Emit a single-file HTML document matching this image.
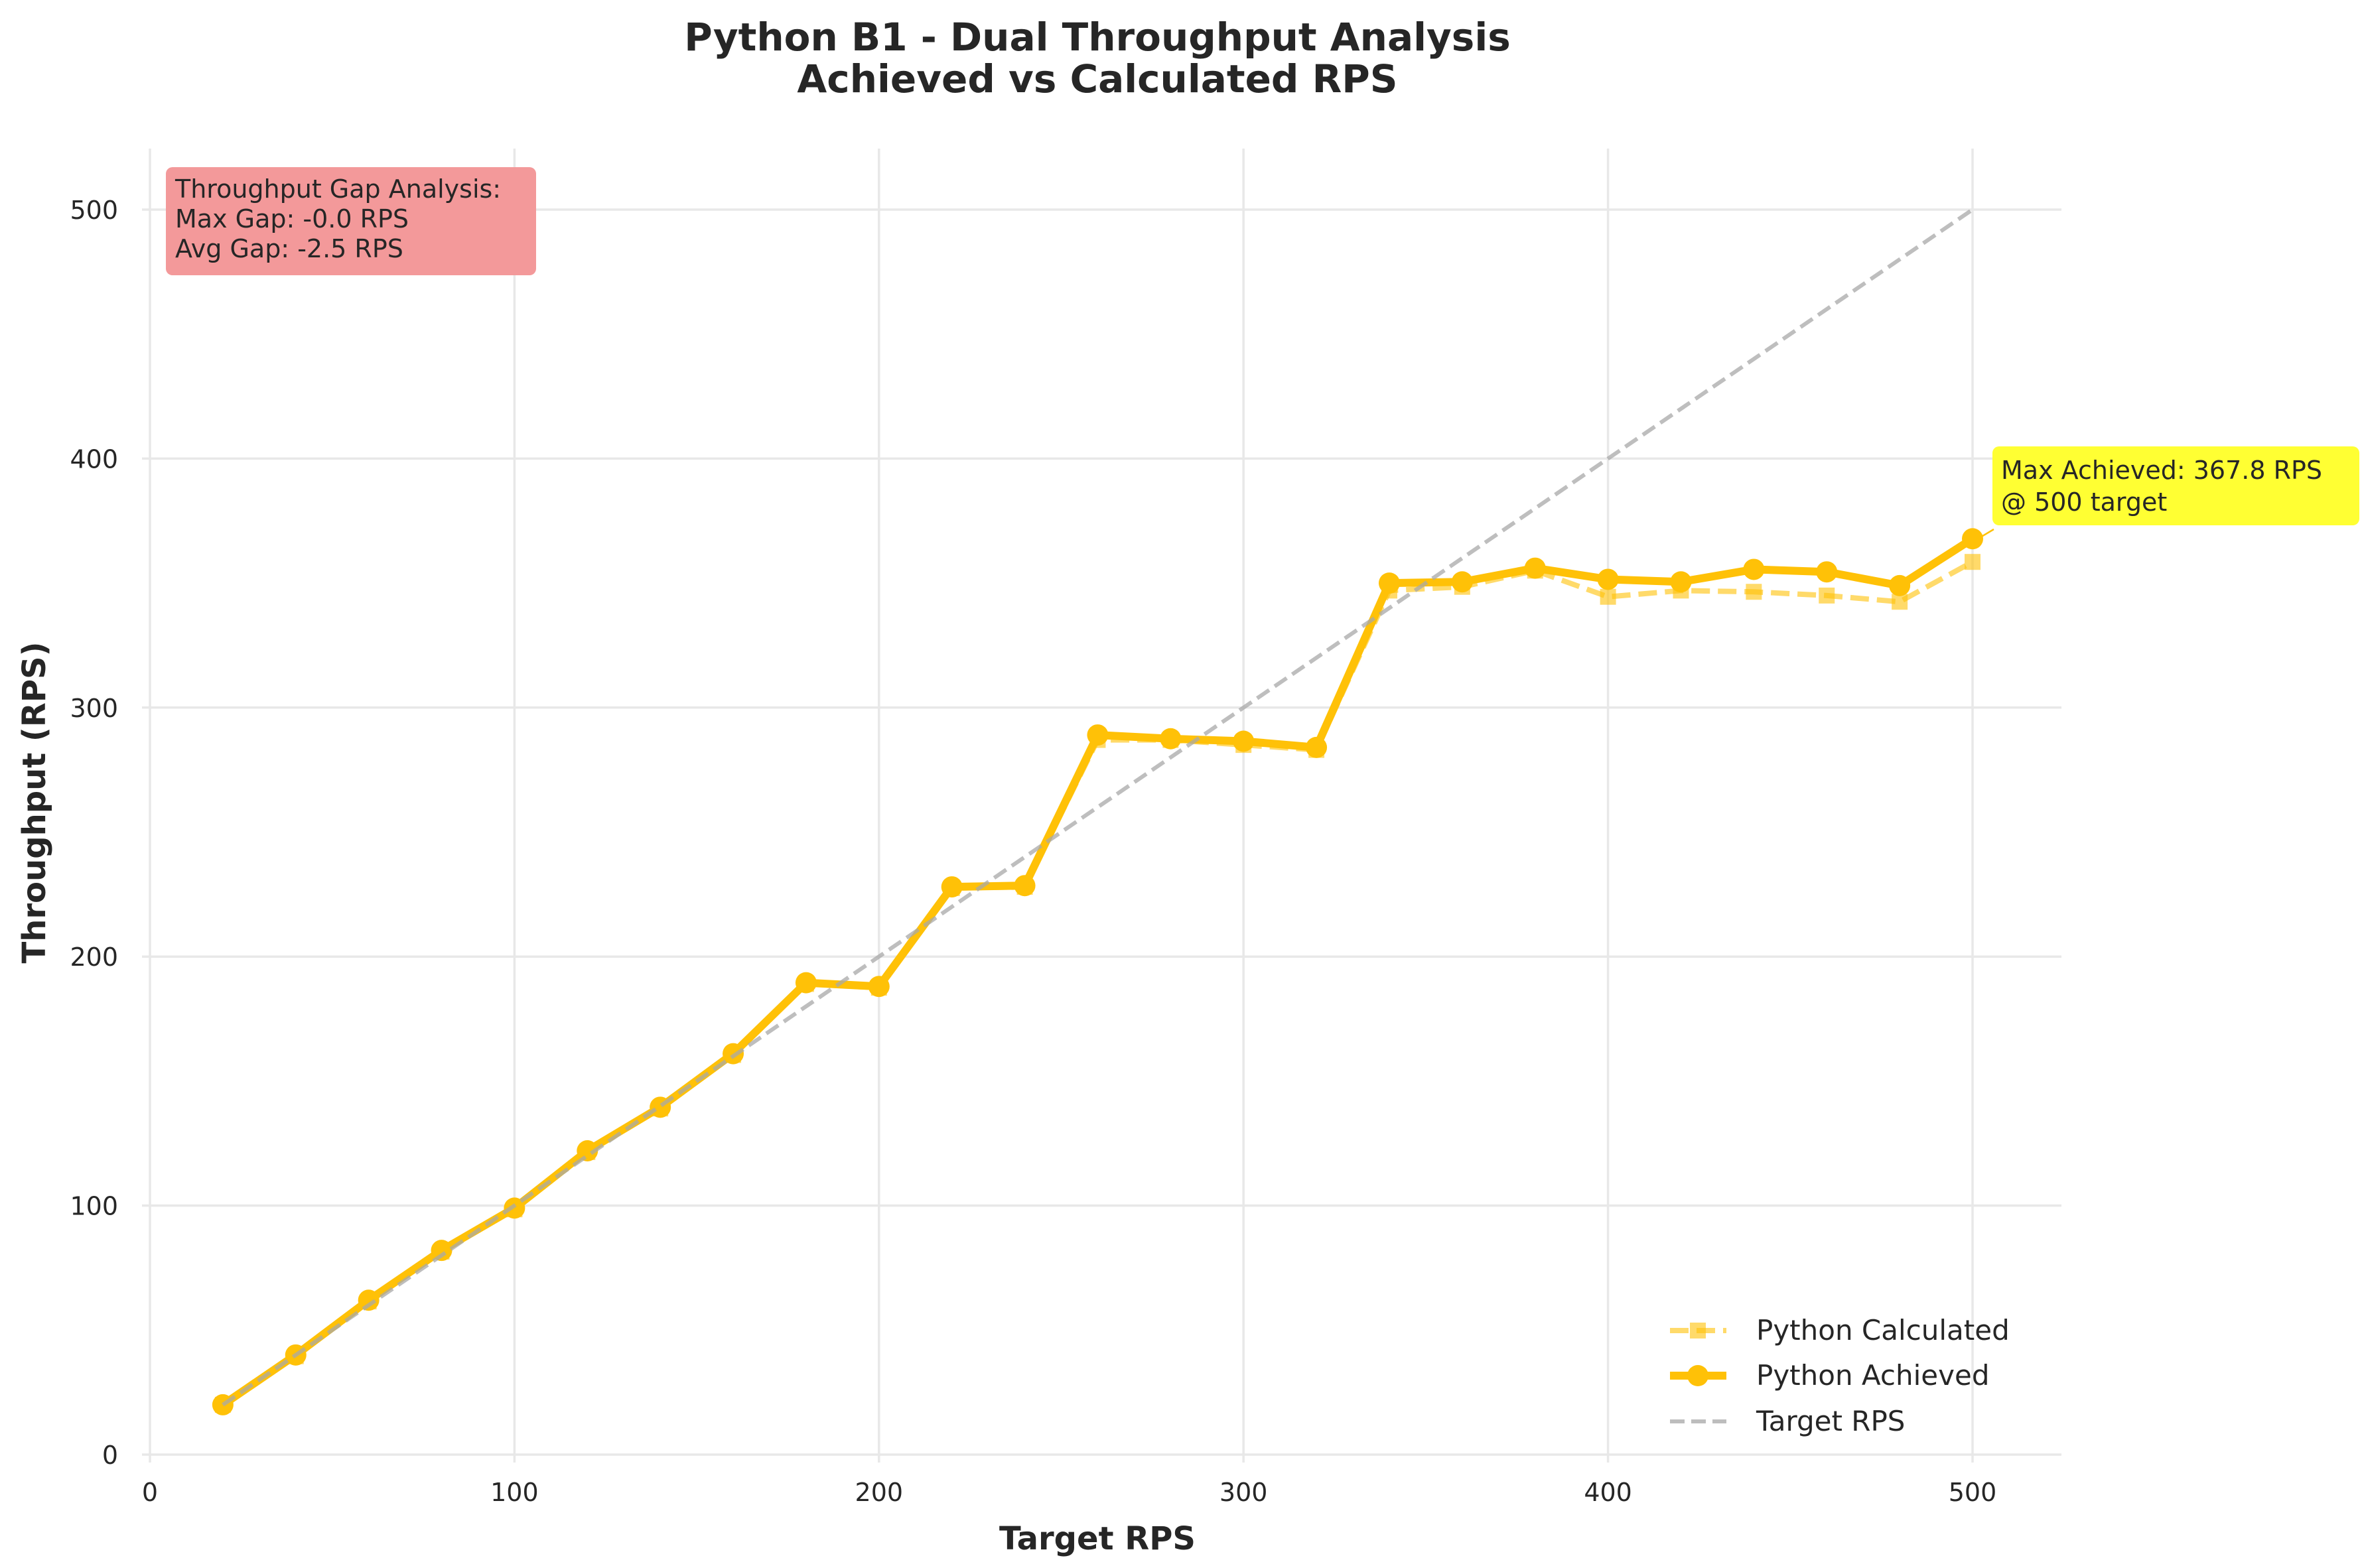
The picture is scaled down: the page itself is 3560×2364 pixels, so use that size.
<!DOCTYPE html>
<html><head><meta charset="utf-8"><style>
html,body{margin:0;padding:0;background:#fff;}
svg{display:block;font-family:"DejaVu Sans","Liberation Sans",sans-serif;}
</style></head><body>
<svg id="chart" width="3560" height="2364" viewBox="0 0 3560 2364" xmlns="http://www.w3.org/2000/svg">
<rect width="3560" height="2364" fill="#fff"/>
<text x="1654" y="76" text-anchor="middle" font-size="58" font-weight="bold" fill="#262626">Python B1 - Dual Throughput Analysis</text>
<text x="1654" y="139" text-anchor="middle" font-size="58" font-weight="bold" fill="#262626">Achieved vs Calculated RPS</text>
<g id="grid"></g>
<g id="ticks"></g>
<g id="series"></g>
<text x="1654" y="2336" text-anchor="middle" font-size="48" font-weight="bold" fill="#262626">Target RPS</text>
<text x="0" y="0" transform="translate(68,1210) rotate(-90)" text-anchor="middle" font-size="48" font-weight="bold" fill="#262626">Throughput (RPS)</text>
<g>
<rect x="250" y="252" width="558" height="163" rx="10" fill="#f3999a"/>
<text x="264" y="298" font-size="38" fill="#262626">Throughput Gap Analysis:</text>
<text x="264" y="343" font-size="38" fill="#262626">Max Gap: -0.0 RPS</text>
<text x="264" y="388" font-size="38" fill="#262626">Avg Gap: -2.5 RPS</text>
</g>
<g id="annot">
<line id="annot-arrow" x1="3005" y1="798" x2="2980" y2="810" stroke="#FFC107" stroke-width="2.5"/>
<rect x="3003" y="673" width="553" height="119" rx="10" fill="#ffff33"/>
<text x="3016" y="722" font-size="38" fill="#262626">Max Achieved: 367.8 RPS</text>
<text x="3016" y="770" font-size="38" fill="#262626">@ 500 target</text>
</g>
<g>
<g>
<line x1="2517" y1="2006" x2="2602" y2="2006" stroke="#FFC107" stroke-opacity="0.6" stroke-width="8" stroke-dasharray="28,12"/>
<rect x="2547" y="1994" width="24" height="24" fill="#FFC107" fill-opacity="0.6"/>
<text x="2647" y="2020" font-size="42" fill="#262626">Python Calculated</text></g>
<g>
<line x1="2517" y1="2074" x2="2602" y2="2074" stroke="#FFC107" stroke-width="12"/>
<circle cx="2559" cy="2074" r="16" fill="#FFC107"/>
<text x="2647" y="2088" font-size="42" fill="#262626">Python Achieved</text></g>
<g>
<line x1="2517" y1="2143" x2="2602" y2="2143" stroke="#bdbdbd" stroke-width="6" stroke-dasharray="22,10"/>
<text x="2647" y="2157" font-size="42" fill="#262626">Target RPS</text></g>
</g>
</svg>
<script>
const targets = [20,40,60,80,100,120,140,160,180,200,220,240,260,280,300,320,340,360,380,400,420,440,460,480,500];
const achieved = [20,40,62,82,99,122,139.5,161,189.5,188,228,228.5,289,287.5,286.5,284,350,350.5,356,351.5,350.5,355.5,354.5,349,367.8];
const calculated = [20,39.5,61.5,81.5,98.5,121.5,139,160.5,189,187.5,227.5,228,287,287,285,283,347,348.5,355,344.5,347,346.5,345,342.5,358.5];
const targetLine = [20,500];
const xTicks = [0,100,200,300,400,500];
const yTicks = [0,100,200,300,400,500];

const X0=226, X1=2973, Y0=2193, Y1=316;
const xs = v => X0 + (X1-X0)*v/500;
const ys = v => Y0 - (Y0-Y1)*v/500;
const NS="http://www.w3.org/2000/svg";
function mk(tag, attrs, parent){const e=document.createElementNS(NS,tag);for(const k in attrs)e.setAttribute(k,attrs[k]);parent.appendChild(e);return e;}
const grid=document.getElementById('grid'), ticks=document.getElementById('ticks'), series=document.getElementById('series');
const plotRight=3107, plotTop=224;
xTicks.forEach(t=>{
  const l=mk('line',{x1:xs(t),x2:xs(t),y1:plotTop,y2:Y0+12,stroke:'#e8e8e8','stroke-width':3.5},grid);
  
  
  const tx=mk('text',{x:xs(t),y:2263,'text-anchor':'middle','font-size':38,fill:'#262626'},ticks);
  tx.textContent=t;
  
  
});
yTicks.forEach(t=>{
  const l=mk('line',{x1:X0-12,x2:plotRight,y1:ys(t),y2:ys(t),stroke:'#e8e8e8','stroke-width':3.5},grid);
  
  
  const tx=mk('text',{x:178,y:ys(t)+14,'text-anchor':'end','font-size':38,fill:'#262626'},ticks);
  tx.textContent=t;
  
  
});
// calculated
const cp=mk('polyline',{points:targets.map((t,i)=>xs(t)+','+ys(calculated[i])).join(' '),fill:'none',stroke:'#FFC107','stroke-opacity':0.6,'stroke-width':8,'stroke-dasharray':'28,12'},series);


targets.forEach((t,i)=>{
  const r=mk('rect',{x:xs(t)-12,y:ys(calculated[i])-12,width:24,height:24,fill:'#FFC107','fill-opacity':0.6},series);
  
  
});
// achieved
const ap=mk('polyline',{points:targets.map((t,i)=>xs(t)+','+ys(achieved[i])).join(' '),fill:'none',stroke:'#FFC107','stroke-width':12,'stroke-linejoin':'round'},series);


targets.forEach((t,i)=>{
  const c=mk('circle',{cx:xs(t),cy:ys(achieved[i]),r:16,fill:'#FFC107'},series);
  
  
});
// target line (drawn on top)
const tl=mk('line',{x1:xs(targetLine[0]),y1:ys(targetLine[0]),x2:xs(targetLine[1]),y2:ys(targetLine[1]),stroke:'#a8a8a8','stroke-opacity':0.75,'stroke-width':6,'stroke-dasharray':'22,10'},series);


// annotation arrow to max point
const mi=achieved.indexOf(Math.max(...achieved));
const ar=document.getElementById('annot-arrow');
ar.setAttribute('x2',xs(targets[mi])+8);
ar.setAttribute('y2',ys(achieved[mi]));
</script>
</body></html>
